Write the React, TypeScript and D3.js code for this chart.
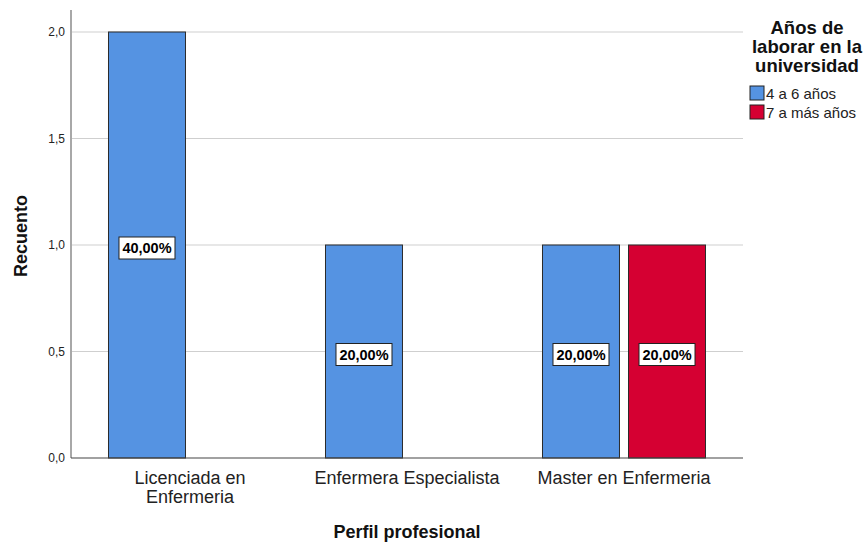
import * as d3 from "d3";

const categories = [["Licenciada en", "Enfermeria"], ["Enfermera Especialista"], ["Master en Enfermeria"]];
const categoryKeys = ["Licenciada en Enfermeria", "Enfermera Especialista", "Master en Enfermeria"];
const groups = ["4 a 6 años", "7 a más años"];
const counts4a6 = [2, 1, 1];
const counts7mas = [0, 0, 1];
const pctLabels4a6 = ["40,00%", "20,00%", "20,00%"];
const pctLabels7mas = ["", "", "20,00%"];
const yTicks = [0, 0.5, 1, 1.5, 2];
const legendTitle = ["Años de", "laborar en la", "universidad"];
const colors = ["#5593e2", "#d50032"];

const font = "'Liberation Sans', Arial, sans-serif";

export default function App() {
  const width = 864;
  const height = 544;
  const left = 71;
  const right = 743;
  const top = 32;
  const bottom = 458;

  const x0 = d3.scaleBand(categoryKeys, [left, right]).paddingInner(0.2488).paddingOuter(0.1728);
  const x1 = d3.scaleBand(groups, [0, x0.bandwidth()]).paddingInner(0.105);
  const y = d3.scaleLinear([0, 2], [bottom, top]);

  const series = [counts4a6, counts7mas];
  const labels = [pctLabels4a6, pctLabels7mas];

  return (
    <svg width={width} height={height} style={{ position: "absolute", left: 0, top: 0, fontFamily: font }}>
      <rect width={width} height={height} fill="#fff" />
      {yTicks.filter(t => t > 0).map(t => (
        <line key={t} x1={left} x2={right} y1={y(t)} y2={y(t)} stroke="#cfcfcf" strokeWidth={1.2} />
      ))}
      {categoryKeys.map((c, i) => (
        <g key={c}>
          {groups.map((g, j) => {
            const v = series[j][i];
            if (!v) return null;
            const bx = (x0(c) ?? 0) + (x1(g) ?? 0);
            const bw = x1.bandwidth();
            const cy = (y(v) + y(0)) / 2 + 3;
            return (
              <g key={g}>
                <rect x={bx} y={y(v)} width={bw} height={y(0) - y(v)} fill={colors[j]} stroke="#2b2b2b" strokeWidth={1} />
                <rect x={bx + bw / 2 - 28} y={cy - 11} width={56} height={22} fill="#fff" stroke="#222" strokeWidth={1} />
                <text x={bx + bw / 2} y={cy} textAnchor="middle" dominantBaseline="central" fontSize={14.5} fontWeight="bold" fill="#000">{labels[j][i]}</text>
              </g>
            );
          })}
        </g>
      ))}
      <line x1={left} x2={left} y1={10} y2={bottom} stroke="#a8a8a8" strokeWidth={2} />
      <line x1={left} x2={right} y1={bottom} y2={bottom} stroke="#444" strokeWidth={1.2} />
      {yTicks.map(t => (
        <text key={t} x={left - 6} y={y(t)} textAnchor="end" dominantBaseline="central" fontSize={12} fill="#222">
          {d3.format(".1f")(t).replace(".", ",")}
        </text>
      ))}
      {categoryKeys.map((c, i) => (
        <text key={c} x={(x0(c) ?? 0) + x0.bandwidth() / 2} y={484} textAnchor="middle" fontSize={18} fill="#222">
          {categories[i].map((line, k) => (
            <tspan key={k} x={(x0(c) ?? 0) + x0.bandwidth() / 2} dy={k === 0 ? 0 : 18.5}>{line}</tspan>
          ))}
        </text>
      ))}
      <text x={407} y={538} textAnchor="middle" fontSize={18} fontWeight="bold" fill="#111">Perfil profesional</text>
      <text transform={`translate(27,236) rotate(-90)`} textAnchor="middle" fontSize={18} fontWeight="bold" fill="#111">Recuento</text>
      {legendTitle.map((t, k) => (
        <text key={t} x={807} y={34 + k * 19} textAnchor="middle" fontSize={18.5} fontWeight="bold" fill="#111">{t}</text>
      ))}
      {groups.map((g, j) => (
        <g key={g}>
          <rect x={750} y={86 + j * 19} width={14} height={14} fill={colors[j]} stroke="#222" strokeWidth={1} />
          <text x={766} y={99 + j * 19} fontSize={15} fill="#222">{g}</text>
        </g>
      ))}
    </svg>
  );
}
